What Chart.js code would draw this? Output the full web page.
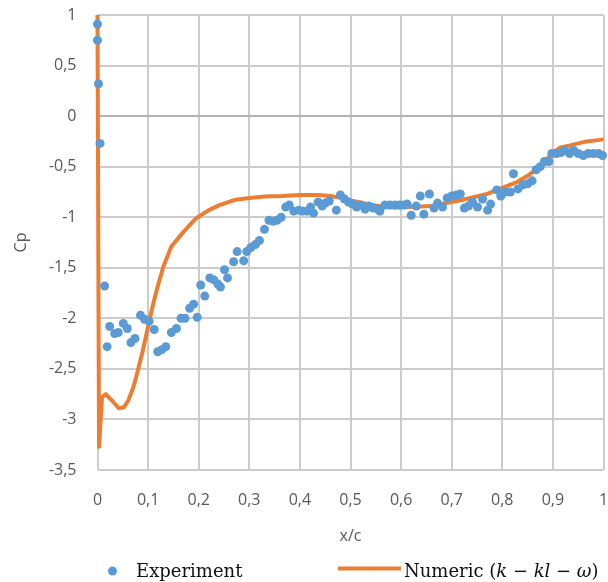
<!DOCTYPE html>
<html>
<head>
<meta charset="utf-8">
<script src="https://cdn.jsdelivr.net/npm/chart.js@4.4.1/dist/chart.umd.min.js"></script>
<style>
  html, body { margin: 0; padding: 0; background: #fff; overflow: hidden; }
</style>
</head>
<body>
<canvas id="chartCp" width="608" height="582"></canvas>
<script>
// measured pressure coefficient along the chord
const expX = [0, 0, 0.002, 0.005, 0.014, 0.019, 0.024, 0.034, 0.041, 0.051, 0.059, 0.066, 0.074, 0.085, 0.093, 0.102, 0.112, 0.119, 0.127, 0.135,
  0.146, 0.156, 0.165, 0.173, 0.182, 0.190, 0.197, 0.204, 0.212, 0.222, 0.230, 0.238, 0.243, 0.251, 0.257, 0.269, 0.276, 0.289, 0.295, 0.303,
  0.312, 0.320, 0.330, 0.339, 0.347, 0.355, 0.363, 0.372, 0.379, 0.388, 0.398, 0.405, 0.414, 0.421, 0.427, 0.436, 0.444, 0.450, 0.458, 0.472,
  0.480, 0.488, 0.496, 0.504, 0.512, 0.521, 0.529, 0.537, 0.545, 0.554, 0.558, 0.568, 0.578, 0.588, 0.597, 0.606, 0.612, 0.620, 0.630, 0.638,
  0.645, 0.656, 0.665, 0.672, 0.682, 0.691, 0.700, 0.709, 0.717, 0.725, 0.733, 0.741, 0.751, 0.761, 0.771, 0.777, 0.789, 0.797, 0.806, 0.816,
  0.822, 0.831, 0.841, 0.850, 0.859, 0.867, 0.875, 0.883, 0.892, 0.898, 0.907, 0.916, 0.924, 0.933, 0.941, 0.950, 0.960, 0.970, 0.980, 0.990, 0.998];
const expY = [0.91, 0.75, 0.32, -0.27, -1.68, -2.28, -2.08, -2.15, -2.14, -2.05, -2.10, -2.24, -2.20, -1.97, -2.01, -2.03, -2.11, -2.33, -2.31, -2.28,
  -2.14, -2.10, -2.00, -2.00, -1.90, -1.86, -1.99, -1.67, -1.78, -1.60, -1.62, -1.66, -1.69, -1.52, -1.60, -1.44, -1.34, -1.43, -1.34, -1.30,
  -1.27, -1.23, -1.12, -1.03, -1.04, -1.03, -1.00, -0.90, -0.88, -0.94, -0.93, -0.94, -0.94, -0.90, -0.96, -0.85, -0.89, -0.86, -0.84, -0.93,
  -0.78, -0.82, -0.85, -0.87, -0.90, -0.88, -0.92, -0.89, -0.91, -0.92, -0.94, -0.88, -0.88, -0.88, -0.88, -0.88, -0.87, -0.98, -0.89, -0.79,
  -0.97, -0.77, -0.91, -0.86, -0.90, -0.81, -0.79, -0.78, -0.77, -0.91, -0.89, -0.85, -0.90, -0.82, -0.93, -0.87, -0.73, -0.79, -0.75, -0.75,
  -0.57, -0.72, -0.68, -0.67, -0.64, -0.53, -0.50, -0.45, -0.45, -0.37, -0.37, -0.36, -0.34, -0.37, -0.34, -0.37, -0.39, -0.37, -0.37, -0.37, -0.39];

// k-kl-omega solution
const numX = [0, 0.003, 0.009, 0.016, 0.03, 0.042, 0.052, 0.061, 0.071, 0.078, 0.088, 0.097, 0.107, 0.117, 0.13, 0.146, 0.169, 0.195, 0.22, 0.241,
  0.27, 0.3, 0.33, 0.365, 0.4, 0.437, 0.46, 0.483, 0.505, 0.529, 0.55, 0.568, 0.59, 0.614, 0.64, 0.66, 0.68, 0.699, 0.72, 0.745,
  0.77, 0.79, 0.81, 0.83, 0.85, 0.869, 0.885, 0.9, 0.915, 0.934, 0.95, 0.967, 0.985, 1];
const numY = [1, -3.27, -2.78, -2.75, -2.82, -2.89, -2.88, -2.81, -2.68, -2.55, -2.35, -2.15, -1.92, -1.72, -1.49, -1.29, -1.15, -1.01, -0.93, -0.88,
  -0.83, -0.81, -0.795, -0.79, -0.78, -0.78, -0.79, -0.81, -0.84, -0.865, -0.885, -0.90, -0.905, -0.90, -0.895, -0.89, -0.87, -0.85, -0.83, -0.80,
  -0.77, -0.73, -0.69, -0.65, -0.59, -0.52, -0.44, -0.36, -0.31, -0.29, -0.27, -0.25, -0.24, -0.23];

const blue = '#5b9bd5';
const orange = '#ed7d31';
const axisGray = '#595959';
const gridGray = '#cccccc';

function toPoints(xs, ys) {
  return xs.map((x, i) => ({ x: x, y: ys[i] }));
}

function commaLabel(v) {
  return String(Math.round(v * 10) / 10).replace('.', ',');
}

// gridlines at every tick of both scales, zero line a shade darker
const gridLines = {
  id: 'gridLines',
  beforeDatasetsDraw(chart) {
    const c = chart.ctx;
    const a = chart.chartArea;
    const sx = chart.scales.x;
    const sy = chart.scales.y;
    c.save();
    c.lineWidth = 2;
    sx.ticks.forEach(t => {
      const px = Math.round(sx.getPixelForValue(t.value));
      c.strokeStyle = gridGray;
      c.beginPath();
      c.moveTo(px, a.top);
      c.lineTo(px, a.bottom);
      c.stroke();
    });
    sy.ticks.forEach(t => {
      const py = Math.round(sy.getPixelForValue(t.value));
      c.strokeStyle = Math.abs(t.value) < 1e-9 ? '#b3b3b3' : gridGray;
      c.beginPath();
      c.moveTo(a.left, py);
      c.lineTo(a.right, py);
      c.stroke();
    });
    c.restore();
  }
};

// legend under the axis title, with the model name set in italics
const legendBelow = {
  id: 'legendBelow',
  afterDraw(chart) {
    const c = chart.ctx;
    const base = 577;
    c.save();
    c.fillStyle = blue;
    c.beginPath();
    c.arc(112.5, 571, 4.5, 0, Math.PI * 2);
    c.fill();

    c.fillStyle = '#111';
    c.textBaseline = 'alphabetic';
    c.textAlign = 'left';
    c.font = '18px "DejaVu Serif"';
    c.fillText(chart.data.datasets[0].label, 136, base);

    c.strokeStyle = orange;
    c.lineWidth = 4;
    c.beginPath();
    c.moveTo(338, 568.5);
    c.lineTo(401, 568.5);
    c.stroke();

    const parts = [
      { t: 'Numeric ', it: false },
      { t: '(', it: false },
      { t: 'k', it: true },
      { t: ' \u2212 ', it: false },
      { t: 'kl', it: true },
      { t: ' \u2212 ', it: false },
      { t: '\u03c9', it: true },
      { t: ')', it: false }
    ];
    let x = 404;
    parts.forEach(p => {
      c.font = (p.it ? 'italic ' : '') + '18px "DejaVu Serif"';
      c.fillText(p.t, x, base);
      x += c.measureText(p.t).width;
    });
    c.restore();
  }
};

const ctx = document.getElementById('chartCp');

const data = {
  datasets: [{
    label: 'Experiment',
    data: toPoints(expX, expY),
    backgroundColor: blue,
    borderColor: blue,
    borderWidth: 0,
    pointRadius: 4.5,
    pointHoverRadius: 4.5,
    order: 0,
    clip: false
  }, {
    label: 'Numeric',
    type: 'line',
    data: toPoints(numX, numY),
    borderColor: orange,
    borderWidth: 4,
    pointRadius: 0,
    fill: false,
    tension: 0,
    borderJoinStyle: 'round',
    order: 1,
    clip: false
  }]
};

const config = {
  type: 'scatter',
  data: data,
  options: {
    responsive: false,
    animation: false,
    layout: { padding: { left: 0, right: 2, top: 15, bottom: 36 } },
    plugins: {
      legend: { display: false },
      tooltip: { enabled: false }
    },
    scales: {
      x: {
        type: 'linear',
        min: 0,
        max: 1,
        border: { display: false },
        grid: { display: false, drawTicks: false },
        ticks: {
          stepSize: 0.1,
          padding: 21,
          color: axisGray,
          font: { family: 'Open Sans', size: 16 },
          callback: commaLabel
        },
        title: {
          display: true,
          text: 'x/c',
          color: axisGray,
          font: { family: 'Open Sans', size: 16 },
          padding: { top: 1, bottom: 0 }
        },
        afterFit(scale) {
          scale.paddingLeft = 0;
          scale.paddingRight = 0;
          scale.height = 76;
        }
      },
      y: {
        min: -3.5,
        max: 1,
        border: { display: false },
        grid: { display: false, drawTicks: false },
        ticks: {
          stepSize: 0.5,
          padding: 21,
          color: axisGray,
          font: { family: 'Open Sans', size: 16 },
          callback: commaLabel
        },
        title: {
          display: true,
          text: 'Cp',
          color: axisGray,
          font: { family: 'Open Sans', size: 16 },
          padding: { top: 12, bottom: 0 }
        },
        afterFit(scale) {
          scale.paddingTop = 0;
          scale.paddingBottom = 0;
          scale.width = 97.5;
        }
      }
    }
  },
  plugins: [gridLines, legendBelow]
};

var chart = new Chart(ctx, config);
</script>
</body>
</html>
